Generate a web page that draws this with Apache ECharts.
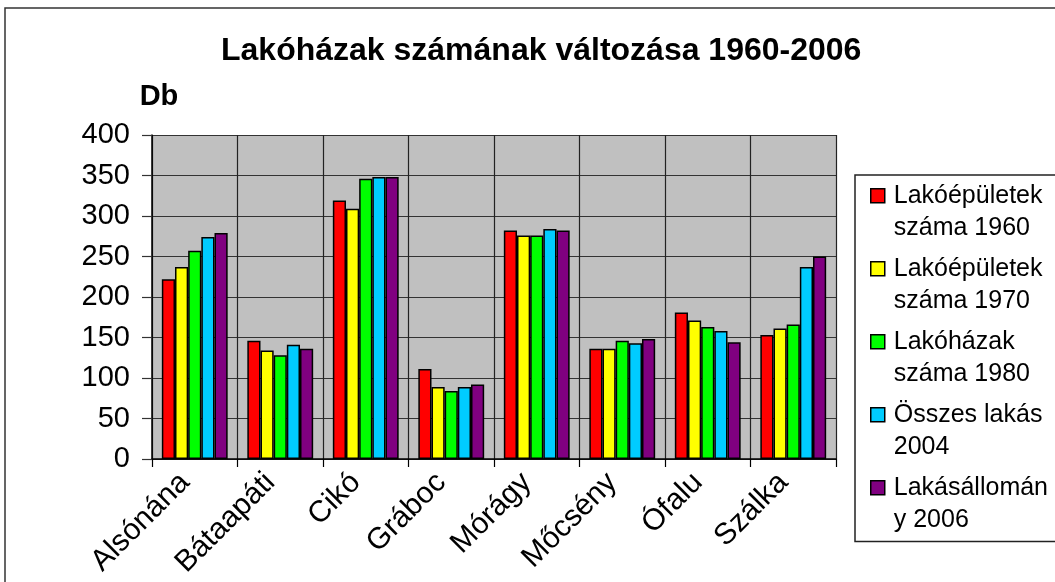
<!DOCTYPE html>
<html>
<head>
<meta charset="utf-8">
<script src="https://cdn.jsdelivr.net/npm/echarts@6/dist/echarts.min.js"></script>
<style>
  html, body { margin: 0; padding: 0; background: #fff; }
  #chart { width: 1055px; height: 582px; }
</style>
</head>
<body>
<div id="chart"></div>
<script>
// Villages (x axis categories)
const categories = ['Alsónána', 'Bátaapáti', 'Cikó', 'Gráboc', 'Mórágy', 'Mőcsény', 'Ófalu', 'Szálka'];

// Series labels as shown in the legend (wrapped on two lines)
const seriesNames = [
  'Lakóépületek\nszáma 1960',
  'Lakóépületek\nszáma 1970',
  'Lakóházak\nszáma 1980',
  'Összes lakás\n2004',
  'Lakásállomán\ny 2006'
];

// Counts per village
const epuletek1960 = [222, 146, 319, 111, 282, 136, 181, 153];
const epuletek1970 = [237, 134, 309, 89, 276, 136, 171, 161];
const lakohazak1980 = [257, 128, 346, 84, 276, 146, 163, 166];
const lakasok2004 = [274, 141, 348, 89, 284, 143, 158, 237];
const allomany2006 = [279, 136, 348, 92, 282, 148, 144, 250];

const seriesData = [epuletek1960, epuletek1970, lakohazak1980, lakasok2004, allomany2006];
const seriesColors = ['#FF0000', '#FFFF00', '#00FF00', '#00CCFF', '#800080'];

// Value axis ticks
const yMin = 0, yMax = 400, yStep = 50;

const FONT = '"Liberation Sans", Arial, sans-serif';

const chart = echarts.init(document.getElementById('chart'), null, { renderer: 'canvas' });

chart.setOption({
  animation: false,
  backgroundColor: '#fff',
  textStyle: { fontFamily: FONT, color: '#000' },
  graphic: [{
    type: 'rect',
    z: -10,
    silent: true,
    shape: { x: 5, y: 8, width: 1200, height: 700 },
    style: { fill: null, stroke: '#333', lineWidth: 1.5 }
  }],
  title: {
    text: 'Lakóházak számának változása 1960-2006',
    left: 221,
    top: 35,
    padding: 0,
    textStyle: { fontFamily: FONT, fontSize: 32, fontWeight: 'bold', color: '#000' }
  },
  legend: {
    orient: 'vertical',
    left: 855,
    top: 175,
    padding: [4, 40, 5, 15],
    itemGap: 7.5,
    itemWidth: 14,
    itemHeight: 64,
    icon: 'path://M0,0M0,9h14v14h-14zM0,64',
    borderColor: '#222',
    borderWidth: 1.5,
    itemStyle: { borderColor: '#000', borderWidth: 1.5 },
    textStyle: { fontFamily: FONT, fontSize: 25, lineHeight: 32, color: '#000', padding: [0, 0, 0, 4] },
    data: seriesNames
  },
  grid: {
    left: 152, right: 219, top: 135, bottom: 123,
    show: true, backgroundColor: '#C0C0C0', borderWidth: 0
  },
  xAxis: {
    type: 'category',
    data: categories,
    axisLine: { show: true, lineStyle: { color: '#000', width: 1.5 } },
    axisTick: { show: true, length: 8, lineStyle: { color: '#000', width: 1.2 } },
    splitLine: { show: true, lineStyle: { color: '#222', width: 1.2 } },
    axisLabel: {
      interval: 0, rotate: 45, margin: 9,
      padding: [0, 14, 0, 0],
      fontFamily: FONT, fontSize: 30, color: '#000'
    }
  },
  yAxis: {
    type: 'value',
    min: yMin, max: yMax, interval: yStep,
    name: 'Db',
    nameLocation: 'end',
    nameGap: 38,
    nameTextStyle: {
      fontFamily: FONT, fontSize: 29, fontWeight: 'bold', color: '#000',
      align: 'center', verticalAlign: 'middle', padding: [0, 0, 0, 14]
    },
    axisLine: { show: true, lineStyle: { color: '#000', width: 1.5 } },
    axisTick: { show: true, length: 10, lineStyle: { color: '#333', width: 1.2 } },
    splitLine: { show: true, lineStyle: { color: '#333', width: 1.2 } },
    axisLabel: { margin: 22, fontFamily: FONT, fontSize: 29, color: '#000' }
  },
  series: seriesData.map((vals, i) => ({
    type: 'bar',
    name: seriesNames[i],
    data: vals,
    barGap: '0%',
    barCategoryGap: '23%',
    itemStyle: { color: seriesColors[i], borderColor: '#000', borderWidth: 1.5 }
  }))
});
</script>
</body>
</html>
